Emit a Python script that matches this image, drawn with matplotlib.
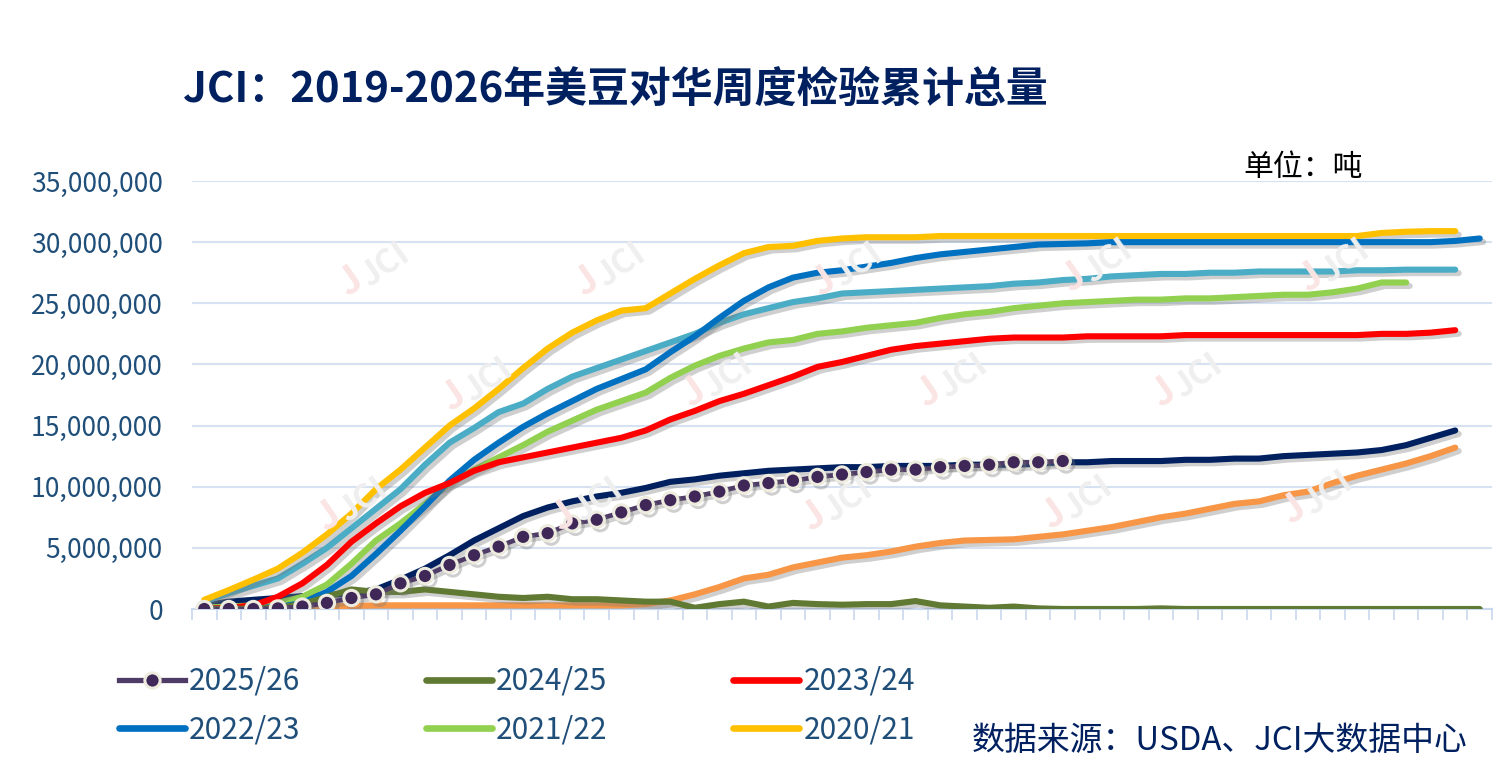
import matplotlib
matplotlib.use("Agg")
import matplotlib.pyplot as plt
import matplotlib.patheffects as pe
from matplotlib.ticker import FuncFormatter, FixedLocator
from matplotlib.lines import Line2D
import numpy as np

plt.rcParams['font.family'] = ['Noto Sans CJK SC', 'DejaVu Sans']

# ---------------- data (million tonnes, weekly cumulative) ----------------
s2025_26 = [0.0, 0.0, 0.0, 0.05, 0.2, 0.5, 0.9, 1.2, 2.1, 2.7, 3.6, 4.4, 5.1, 5.9, 6.2, 7.0,
            7.3, 7.9, 8.5, 8.9, 9.2, 9.6, 10.1, 10.3, 10.5, 10.8, 11.0, 11.2, 11.4, 11.4,
            11.6, 11.7, 11.8, 12.0, 12.0, 12.1]
s2024_25 = [0.0, 0.0, 0.05, 0.1, 0.4, 1.0, 1.6, 1.4, 1.4, 1.6, 1.4, 1.2, 1.0, 0.9, 1.0, 0.8,
            0.8, 0.7, 0.6, 0.6, 0.1, 0.4, 0.6, 0.2, 0.5, 0.4, 0.35, 0.4, 0.4, 0.65, 0.3, 0.2,
            0.1, 0.2, 0.05, 0.0, 0.0, 0.0, 0.0, 0.05, 0.0, 0.0, 0.0, 0.0, 0.0, 0.0, 0.0, 0.0,
            0.0, 0.0, 0.0, 0.0, 0.0]
s2023_24 = [0.0, 0.1, 0.3, 1.0, 2.1, 3.6, 5.5, 7.0, 8.4, 9.5, 10.3, 11.3, 12.0, 12.4, 12.8,
            13.2, 13.6, 14.0, 14.6, 15.5, 16.2, 17.0, 17.6, 18.3, 19.0, 19.8, 20.2, 20.7,
            21.2, 21.5, 21.7, 21.9, 22.1, 22.2, 22.2, 22.2, 22.3, 22.3, 22.3, 22.3, 22.4,
            22.4, 22.4, 22.4, 22.4, 22.4, 22.4, 22.4, 22.5, 22.5, 22.6, 22.8]
s2022_23 = [0.0, 0.05, 0.1, 0.15, 0.5, 1.4, 2.7, 4.5, 6.4, 8.4, 10.5, 12.2, 13.6, 14.9,
            16.0, 17.0, 18.0, 18.8, 19.6, 21.0, 22.3, 23.8, 25.2, 26.3, 27.1, 27.5, 27.7,
            28.0, 28.3, 28.7, 29.0, 29.2, 29.4, 29.6, 29.8, 29.85, 29.9, 30.0, 30.0, 30.0,
            30.0, 30.0, 30.0, 30.0, 30.0, 30.0, 30.0, 30.0, 30.0, 30.0, 30.0, 30.1, 30.3]
s2021_22 = [0.1, 0.2, 0.3, 0.5, 1.0, 2.0, 3.7, 5.6, 7.0, 8.6, 10.3, 11.4, 12.4, 13.4, 14.5,
            15.4, 16.3, 17.0, 17.7, 18.9, 19.9, 20.7, 21.3, 21.8, 22.0, 22.5, 22.7, 23.0,
            23.2, 23.4, 23.8, 24.1, 24.3, 24.6, 24.8, 25.0, 25.1, 25.2, 25.3, 25.3, 25.4,
            25.4, 25.5, 25.6, 25.7, 25.7, 25.9, 26.2, 26.7, 26.7]
s2020_21 = [0.75, 1.55, 2.4, 3.3, 4.6, 6.1, 7.8, 9.8, 11.4, 13.2, 15.0, 16.4, 18.0, 19.7,
            21.3, 22.6, 23.6, 24.4, 24.6, 25.8, 27.0, 28.1, 29.1, 29.6, 29.7, 30.1, 30.3,
            30.4, 30.4, 30.4, 30.5, 30.5, 30.5, 30.5, 30.5, 30.5, 30.5, 30.5, 30.5, 30.5,
            30.5, 30.5, 30.5, 30.5, 30.5, 30.5, 30.5, 30.5, 30.75, 30.85, 30.9, 30.9]
s_teal = [0.6, 1.3, 1.9, 2.5, 3.7, 5.0, 6.6, 8.2, 9.8, 11.8, 13.6, 14.8, 16.1, 16.8, 18.0,
          19.0, 19.7, 20.4, 21.1, 21.8, 22.5, 23.4, 24.1, 24.6, 25.1, 25.4, 25.8, 25.9,
          26.0, 26.1, 26.2, 26.3, 26.4, 26.6, 26.7, 26.9, 27.0, 27.2, 27.3, 27.4, 27.4,
          27.5, 27.5, 27.6, 27.6, 27.6, 27.6, 27.7, 27.7, 27.75, 27.75, 27.75]
s_navy = [0.3, 0.6, 0.75, 0.9, 1.05, 1.15, 1.25, 1.6, 2.4, 3.3, 4.4, 5.6, 6.6, 7.6, 8.3,
          8.8, 9.2, 9.5, 9.9, 10.4, 10.6, 10.9, 11.1, 11.3, 11.4, 11.5, 11.6, 11.6, 11.7,
          11.7, 11.7, 11.8, 11.8, 11.8, 11.9, 12.0, 12.0, 12.1, 12.1, 12.1, 12.2, 12.2,
          12.3, 12.3, 12.5, 12.6, 12.7, 12.8, 13.0, 13.4, 14.0, 14.6]
s_orange = [0.1, 0.15, 0.2, 0.2, 0.2, 0.25, 0.25, 0.3, 0.3, 0.3, 0.3, 0.3, 0.3, 0.3, 0.3,
            0.3, 0.3, 0.3, 0.4, 0.7, 1.2, 1.8, 2.5, 2.8, 3.4, 3.8, 4.2, 4.4, 4.7, 5.1, 5.4,
            5.6, 5.65, 5.7, 5.9, 6.1, 6.4, 6.7, 7.1, 7.5, 7.8, 8.2, 8.6, 8.8, 9.3, 9.6,
            10.3, 10.9, 11.4, 11.9, 12.5, 13.2]

n_weeks = 53
y_ticks = [0, 5e6, 10e6, 15e6, 20e6, 25e6, 30e6, 35e6]

title = "JCI：2019-2026年美豆对华周度检验累计总量"
unit_text = "单位：吨"
source_text = "数据来源：USDA、JCI大数据中心"

# ---------------- figure ----------------
fig = plt.figure(figsize=(15.10, 7.74), dpi=100)
ax = fig.add_axes([192/1510, 165/774, 1300/1510, 428/774])

# watermarks
wm_pos = [(367, 272), (603, 272), (840, 272), (1090, 268), (1327, 268),
          (470, 387), (710, 383), (945, 383), (1180, 383),
          (345, 507), (580, 507), (830, 507), (1070, 505), (1310, 500)]
for (px, py) in wm_pos:
    fx, fy = px / 1510, 1 - py / 774
    fig.text(fx - 0.012, fy - 0.012, "J", rotation=35, fontsize=28, color="#FBE4E4",
             ha="center", va="center", fontweight="bold", zorder=0)
    fig.text(fx + 0.012, fy + 0.008, "JCI", rotation=35, fontsize=24, color="#EFEFEF",
             ha="center", va="center", fontweight="bold", zorder=0)

shadow = [pe.SimpleLineShadow(offset=(2.5, -2.5), shadow_color="#777777", alpha=0.35, rho=1),
          pe.Normal()]

def plot_series(vals, color, lw=4.4, **kw):
    x = np.arange(len(vals))
    y = np.array(vals) * 1e6
    ln, = ax.plot(x, y, color=color, lw=lw, solid_capstyle="round",
                  solid_joinstyle="round", path_effects=shadow, **kw)
    return ln

plot_series(s_orange, "#F79646", zorder=3)
plot_series(s_navy, "#002060", zorder=3)
plot_series(s_teal, "#4BACC6", zorder=3)
plot_series(s2020_21, "#FFC000", zorder=4)
plot_series(s2021_22, "#92D050", zorder=4)
plot_series(s2022_23, "#0070C0", zorder=4)
plot_series(s2023_24, "#FF0000", zorder=4)
plot_series(s2024_25, "#617A33", zorder=5)
x25 = np.arange(len(s2025_26))
ax.plot(x25, np.array(s2025_26) * 1e6, color="#4E3B66", lw=3.4,
        marker="o", markersize=11, markerfacecolor="#3F2858",
        markeredgecolor="#EEEBDF", markeredgewidth=2.2, zorder=6,
        path_effects=shadow)

ax.set_xlim(-0.5, n_weeks - 0.5)
ax.set_ylim(0, 35e6)
ax.set_yticks(y_ticks)
ax.yaxis.set_major_formatter(FuncFormatter(lambda v, p: f"{int(v):,}"))
ax.tick_params(axis="y", length=0, labelsize=19, labelcolor="#1F4E79", pad=21)
ax.xaxis.set_major_locator(FixedLocator(np.arange(-0.5, n_weeks, 1.0)))
ax.xaxis.set_ticklabels([])
ax.tick_params(axis="x", length=8, width=1.2, color="#C9D8EC", direction="out")
ax.grid(axis="y", color="#D6E2F2", lw=1.5, zorder=0)
ax.set_axisbelow(True)
for s in ["top", "right", "left"]:
    ax.spines[s].set_visible(False)
ax.spines["bottom"].set_color("#C9D8EC")
ax.spines["bottom"].set_linewidth(1.5)
ax.patch.set_alpha(0)

# title / texts
fig.text(183 / 1510, 1 - 90 / 774, title, fontsize=30.2, fontweight="bold",
         color="#002060", ha="left", va="center")
fig.text(1243 / 1510, 1 - 167 / 774, unit_text, fontsize=21.5, color="#000000",
         ha="left", va="center")
fig.text(972 / 1510, 1 - 741 / 774, source_text, fontsize=23.7, color="#002060",
         ha="left", va="center")

# legend (row-major order emulation)
def lh(color, **kw):
    return Line2D([], [], color=color, lw=4.8, solid_capstyle="round", **kw)

h2025 = Line2D([], [], color="#4E3B66", lw=3.8, marker="o", markersize=11,
               markerfacecolor="#3F2858", markeredgecolor="#EEEBDF", markeredgewidth=2.2)
handles = [h2025, lh("#0070C0"), lh("#617A33"), lh("#92D050"), lh("#FF0000"), lh("#FFC000")]
labels = ["2025/26", "2022/23", "2024/25", "2021/22", "2023/24", "2020/21"]
fig.legend(handles, labels, ncol=3, loc="upper left",
           bbox_to_anchor=(110 / 1510, 1 - 657 / 774), frameon=False,
           fontsize=21.5, handlelength=2.2, handletextpad=0.15,
           columnspacing=4.2, labelspacing=0.58, labelcolor="#1F4E79",
           borderaxespad=0, borderpad=0.3)

fig.savefig("out.png", dpi=100)
